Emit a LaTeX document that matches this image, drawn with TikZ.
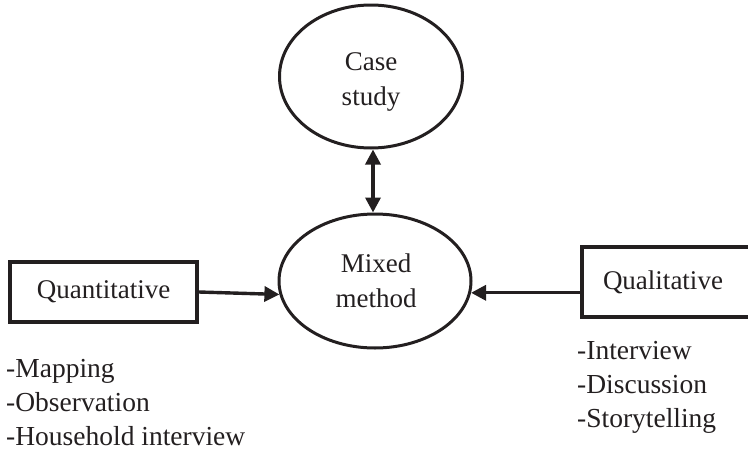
\documentclass[tikz,border=0pt]{standalone}
\usepackage{fontspec}
\setmainfont{Liberation Serif}
\usetikzlibrary{arrows.meta,shapes.geometric}
\definecolor{ink}{HTML}{231F20}
\begin{document}
\begin{tikzpicture}[x=1pt,y=-1pt,
  every node/.style={text=ink, font=\fontsize{27}{31}\selectfont},
  oval/.style={draw=ink, line width=3pt, ellipse, inner sep=0pt},
  ovaltext/.style={inner sep=0pt, align=center, font=\fontsize{27}{35}\selectfont},
  frame/.style={draw=ink, line width=3.6pt, rectangle, inner sep=0pt},
  listing/.style={anchor=north west, inner sep=0pt, align=left,
    font=\fontsize{27.5}{34}\selectfont},
  link/.style={draw=ink, line width=3.4pt, -{Triangle[length=15pt,width=15pt]}},
  twoway/.style={draw=ink, line width=3.4pt,
    {Triangle[length=15pt,width=15pt]}-{Triangle[length=15pt,width=15pt]}}]
\useasboundingbox (0,0) rectangle (748,453);

% ovals and their captions
\node[oval, minimum width=183pt, minimum height=143pt] (case) at (371,76.5) {};
\node[oval, minimum width=192pt, minimum height=134pt] (mixed) at (375,281) {};
\node[ovaltext] (casetext) at (371,82) {Case\\study};
\node[ovaltext] (mixedtext) at (376,281) {Mixed\\method};

% boxes
\node[frame, minimum width=187pt, minimum height=60pt] (quant) at (103.5,292) {Quantitative};
\node[frame, minimum width=180pt, minimum height=70pt, text width=180pt,
  align=left, inner xsep=0pt] (qual) at (672,282) {\hspace*{21pt}Qualitative};

% connectors
\draw[twoway] ([xshift=2pt]case.south) -- ([xshift=-2pt]mixed.north);
\draw[link] (quant.east) -- (mixed.188);
\draw[link] (qual.west |- mixed.353) -- (mixed.353);

% method lists
\node[listing] (quantlist) at (6,359) {-Mapping\\-Observation\\-Household interview};
\node[listing] (quallist) at (577,341) {-Interview\\-Discussion\\-Storytelling};
\end{tikzpicture}
\end{document}
